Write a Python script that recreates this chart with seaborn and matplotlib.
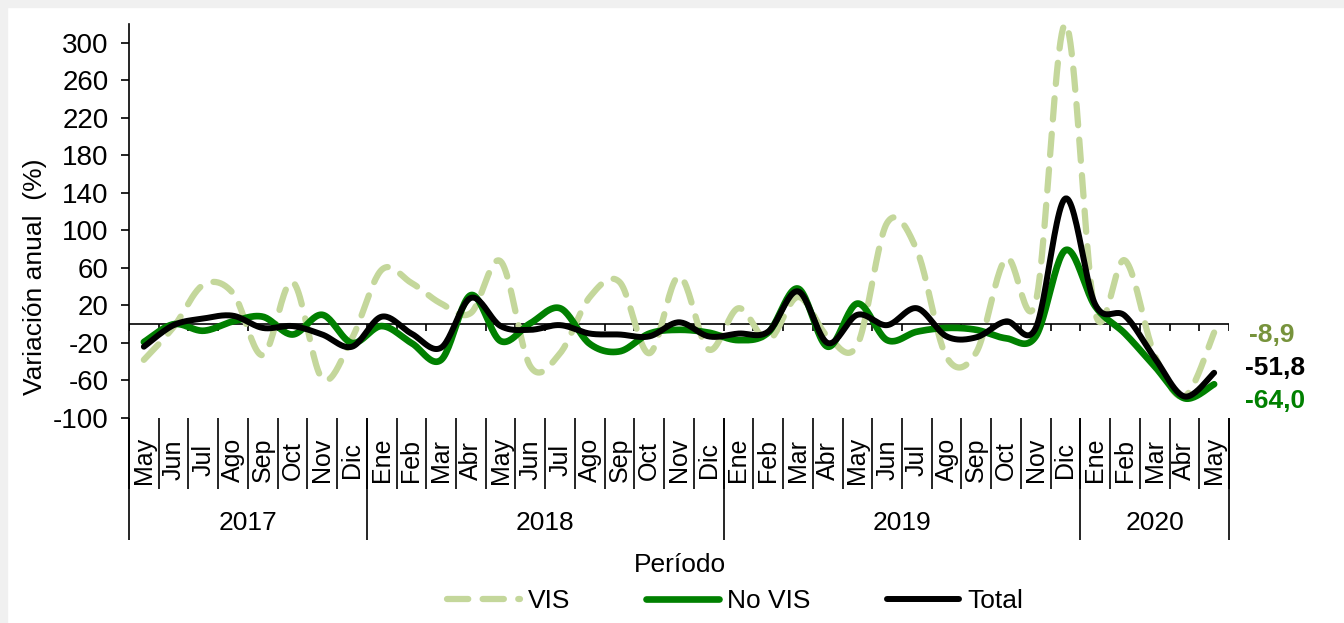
import matplotlib
matplotlib.use("Agg")
import matplotlib.pyplot as plt
from matplotlib.patches import Rectangle
import numpy as np
import pandas as pd
import seaborn as sns

months = ["May", "Jun", "Jul", "Ago", "Sep", "Oct", "Nov", "Dic",
          "Ene", "Feb", "Mar", "Abr", "May", "Jun", "Jul", "Ago", "Sep", "Oct", "Nov", "Dic",
          "Ene", "Feb", "Mar", "Abr", "May", "Jun", "Jul", "Ago", "Sep", "Oct", "Nov", "Dic",
          "Ene", "Feb", "Mar", "Abr", "May"]
years = ["2017", "2018", "2019", "2020"]
months_per_year = [8, 12, 12, 5]

vis = [-38, -3, 42, 33, -33, 45, -58, -15,
       58, 44, 22, 12, 67, -45, -31, 29, 45, -31, 51, -27,
       17, -17, 29, -13, -22, 108, 79, -35, -30, 70, 24, 320,
       12, 68, -33, -77, -8.9]
no_vis = [-19, 0, -7, 3, 8, -11, 10, -20,
          -2, -20, -38, 31, -18, 1, 17, -21, -29, -10, -6, -9,
          -17, -9, 38, -24, 22, -17, -8, -4, -6, -15, -13, 79,
          19, -10, -45, -79, -64.0]
total = [-24, -1, 6, 9, -4, -2, -11, -24,
         8, -10, -25, 28, -2, -6, -1, -10, -11, -13, 2, -13,
         -10, -8, 35, -20, 10, -1, 17, -13, -14, 3, -4, 134,
         21, 9, -36, -77, -51.8]

end_labels = ["-8,9", "-51,8", "-64,0"]

W, H = 1344, 623


def fx(px):
    return px / W


def fy(py):
    return 1 - py / H


def smooth_curve(values, n=24):
    # Excel style smoothed line: bezier segments with 1/6 tangents
    y = np.asarray(values, dtype=float)
    x = np.arange(len(y), dtype=float)
    pts = np.column_stack([x, y])
    pts = np.vstack([pts[:1], pts, pts[-1:]])
    t = np.linspace(0, 1, n, endpoint=False)[:, None]
    out = []
    for i in range(1, len(pts) - 2):
        p0, p1, p2, p3 = pts[i - 1], pts[i], pts[i + 1], pts[i + 2]
        c1 = p1 + (p2 - p0) / 6
        c2 = p2 - (p3 - p1) / 6
        seg = ((1 - t) ** 3) * p1 + 3 * ((1 - t) ** 2) * t * c1 + 3 * (1 - t) * t ** 2 * c2 + t ** 3 * p2
        out.append(seg)
    out.append(pts[-2:-1])
    out = np.vstack(out)
    return pd.DataFrame({"x": out[:, 0], "y": out[:, 1]})


sns.set_theme(style="white")
plt.rcParams["font.family"] = ["Liberation Sans", "DejaVu Sans"]
plt.rcParams["axes.unicode_minus"] = False
plt.rcParams["text.color"] = "black"
plt.rcParams["axes.labelcolor"] = "black"
plt.rcParams["ytick.color"] = "black"
plt.rcParams["xtick.color"] = "black"

fig = plt.figure(figsize=(W / 100, H / 100), dpi=100, facecolor="white")
fig.patches.append(Rectangle((0, 0), fx(7), 1, transform=fig.transFigure, color="#f0f0f0", zorder=0))
fig.patches.append(Rectangle((0, fy(7)), 1, 1 - fy(7), transform=fig.transFigure, color="#f0f0f0", zorder=0))

ax = fig.add_axes([fx(129), fy(418), fx(1229) - fx(129), fy(24) - fy(418)])
ax.set_facecolor("white")

c_vis, c_novis, c_total = "#c4d79b", "#008000", "#000000"

sns.lineplot(data=smooth_curve(vis), x="x", y="y", sort=False, estimator=None, ax=ax,
             color=c_vis, linewidth=4.5, linestyle=(0, (3.4, 2.3)),
             dash_capstyle="round", label="VIS", clip_on=False, zorder=3)
sns.lineplot(data=smooth_curve(no_vis), x="x", y="y", sort=False, estimator=None, ax=ax,
             color=c_novis, linewidth=4.8, solid_capstyle="round", label="No VIS", zorder=4)
sns.lineplot(data=smooth_curve(total), x="x", y="y", sort=False, estimator=None, ax=ax,
             color=c_total, linewidth=4.3, solid_capstyle="round", label="Total", zorder=5)

n = len(months)
ax.set_xlim(-0.5, n - 0.5)
ax.set_ylim(-100, 320)
ax.set_yticks(np.arange(-100, 301, 40))
ax.tick_params(axis="y", direction="out", length=5.8, width=1.2, labelsize=20, left=True, pad=9,
               colors="black", labelcolor="black")
ax.set_xticks([])
ax.set_xlabel("")
ax.set_ylabel("")
for s in ["top", "right", "bottom"]:
    ax.spines[s].set_visible(False)
ax.spines["left"].set_color("black")
ax.spines["left"].set_linewidth(1.2)

# zero line with small category ticks
ax.axhline(0, color="black", linewidth=1.2, zorder=2)
bounds = np.arange(n + 1) - 0.5
ax.vlines(bounds, -7, 0, color="black", linewidth=1.2, zorder=2)

# category table below the plot
year_edges = np.concatenate([[0], np.cumsum(months_per_year)]) - 0.5
ax.vlines(bounds, -176, -100, color="black", linewidth=1.2, clip_on=False)
ax.vlines(year_edges, -230, -100, color="black", linewidth=1.2, clip_on=False)
for i, m in enumerate(months):
    ax.text(i, -145, m, rotation=90, ha="center", va="center", fontsize=18, color="black", clip_on=False)
for k, yr in enumerate(years):
    ax.text((year_edges[k] + year_edges[k + 1]) / 2, -212, yr, ha="center", va="center",
            fontsize=19, color="black", clip_on=False)

# end value labels
ax.text(37.95, -12, end_labels[0], color="#77933c", fontsize=19, fontweight="bold",
        ha="center", va="center", clip_on=False)
ax.text(38.05, -46.5, end_labels[1], color="black", fontsize=19, fontweight="bold",
        ha="center", va="center", clip_on=False)
ax.text(38.05, -82, end_labels[2], color=c_novis, fontsize=19, fontweight="bold",
        ha="center", va="center", clip_on=False)

fig.text(fx(35), fy(277), "Variación anual  (%)", rotation=90, ha="center", va="center",
         fontsize=19, color="black")
fig.text(fx(680), fy(565), "Período", ha="center", va="center", fontsize=19, color="black")

handles, labels = ax.get_legend_handles_labels()
ax.get_legend().remove()
fig.legend(handles, labels, loc="center", bbox_to_anchor=(fx(735), fy(601)), ncol=3,
           frameon=False, fontsize=19, handlelength=2.75, columnspacing=2.9, handletextpad=0.3,
           labelcolor="black")

fig.savefig("out.png", dpi=100, facecolor="white")
